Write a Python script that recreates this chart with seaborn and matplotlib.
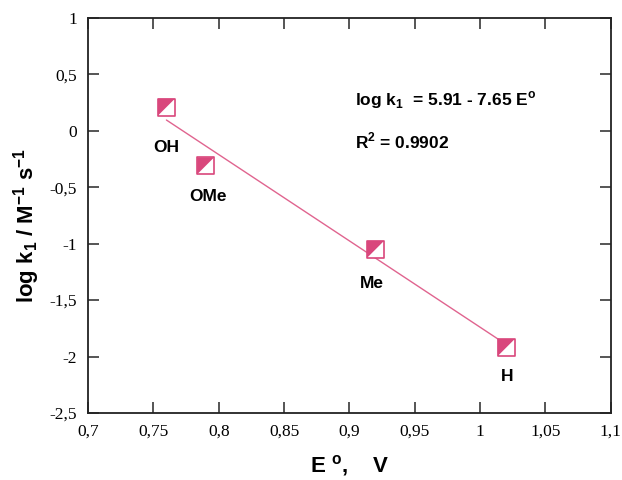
import numpy as np
import matplotlib
matplotlib.use("Agg")
import matplotlib.pyplot as plt
import seaborn as sns
import pandas as pd

# data
subst = ["OH", "OMe", "Me", "H"]
e0 = [0.76, 0.79, 0.92, 1.02]
logk = [0.21, -0.31, -1.05, -1.92]
# label positions under each point
lab_x = [0.760, 0.792, 0.917, 1.021]
lab_y = [-0.15, -0.58, -1.35, -2.18]
# fit line
a, b = 5.91, -7.65
fit_x = [0.76, 1.02]

xticks = [0.7, 0.75, 0.8, 0.85, 0.9, 0.95, 1.0, 1.05, 1.1]
xticklabels = ["0,7", "0,75", "0,8", "0,85", "0,9", "0,95", "1", "1,05", "1,1"]
yticks = [-2.5, -2, -1.5, -1, -0.5, 0, 0.5, 1]
yticklabels = ["-2,5", "-2", "-1,5", "-1", "-0,5", "0", "0,5", "1"]

pink = "#d9477c"
line_pink = "#e0648f"

sns.set_style("ticks")
plt.rcParams["font.family"] = ["Liberation Sans", "DejaVu Sans"]
plt.rcParams["mathtext.fontset"] = "custom"
plt.rcParams["mathtext.rm"] = "Liberation Sans"
plt.rcParams["mathtext.bf"] = "Liberation Sans:bold"
plt.rcParams["text.color"] = "black"
plt.rcParams["axes.labelcolor"] = "black"
plt.rcParams["xtick.labelcolor"] = "black"
plt.rcParams["ytick.labelcolor"] = "black"

df = pd.DataFrame({"E0": e0, "logk": logk, "subst": subst})
fit_y = [a + b * x for x in fit_x]

fig = plt.figure(figsize=(6.22, 4.8), dpi=100)
ax = fig.add_axes([0.1415, 0.1396, 0.8405, 0.8229])

sns.lineplot(x=fit_x, y=fit_y, ax=ax, color=line_pink, lw=1.0, zorder=2)

# half-filled square markers: white square, pink upper-left triangle, pink edge
tri = [(-1, -1), (-1, 1), (1, 1), (-1, -1)]
sns.scatterplot(data=df, x="E0", y="logk", ax=ax, marker="s", s=150,
                color="white", edgecolor="none", linewidth=0, zorder=3)
sns.scatterplot(data=df, x="E0", y="logk", ax=ax, marker=tri, s=150,
                color=pink, edgecolor="none", linewidth=0, zorder=4)
ax.scatter(df["E0"], df["logk"], marker="s", s=150, facecolors="none",
           edgecolors=pink, linewidths=1.2, zorder=5)

for name, lx, ly in zip(subst, lab_x, lab_y):
    ax.text(lx, ly, name, ha="center", va="center", fontsize=12.5,
            fontweight="bold")

ax.text(0.904, 0.27, r"log k$_\mathbf{1}$  = 5.91 - 7.65 E$^\mathbf{o}$",
        fontsize=12.5, fontweight="bold", va="center")
ax.text(0.904, -0.09, r"R$^\mathbf{2}$ = 0.9902", fontsize=12.5,
        fontweight="bold", va="center")

ax.set_xlim(0.7, 1.1)
ax.set_ylim(-2.5, 1)
ax.set_xticks(xticks)
ax.set_xticklabels(xticklabels, family="Liberation Serif", fontsize=12.5)
ax.set_yticks(yticks)
ax.set_yticklabels(yticklabels, family="Liberation Serif", fontsize=12.5)
ax.tick_params(direction="in", length=8, width=1.4, top=True, right=True,
               pad=8, color="#555555")
for sp in ax.spines.values():
    sp.set_visible(True)
    sp.set_linewidth(1.3)
    sp.set_color("#222222")

ax.set_xlabel(r"E $^\mathbf{o}$,    V", fontsize=16, fontweight="bold",
              labelpad=9)
ax.set_ylabel(r"log k$_\mathbf{1}$ / M$^\mathbf{-1}$ s$^\mathbf{-1}$",
              fontsize=16, fontweight="bold")
ax.yaxis.set_label_coords(-0.088, 0.475)

fig.savefig("out.png", dpi=100)
